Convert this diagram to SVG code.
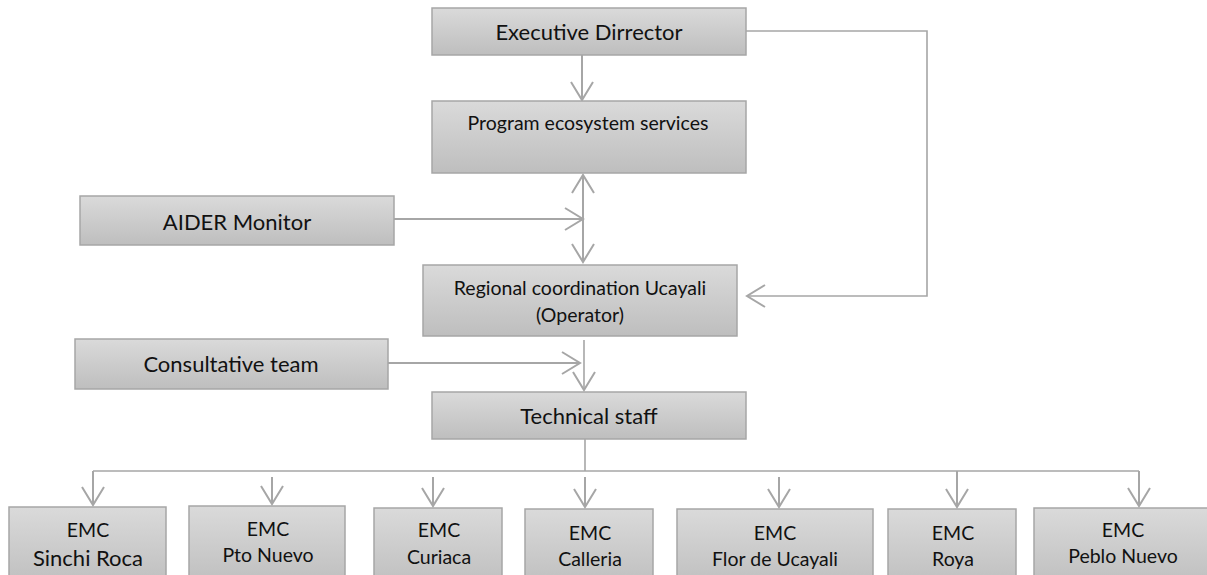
<svg xmlns="http://www.w3.org/2000/svg" width="1207" height="575" viewBox="0 0 1207 575">
<defs>
<linearGradient id="g" x1="0" y1="0" x2="0" y2="1">
<stop offset="0" stop-color="#DADADA"/>
<stop offset="1" stop-color="#BEBEBE"/>
</linearGradient>
<marker id="arr" markerUnits="userSpaceOnUse" markerWidth="26" markerHeight="30" viewBox="0 0 26 30" refX="21" refY="13" orient="auto-start-reverse">
<path d="M3,2 L21,13 L3,24" fill="none" stroke="#A6A6A6" stroke-width="2"/>
</marker>
<style>
.box{fill:url(#g);stroke:#A6A6A6;stroke-width:1.5}
.t{font-family:Lato,"Liberation Sans",sans-serif;fill:#111;text-anchor:middle}
.l{font-size:22px}
.m{font-size:19.5px}
.c{fill:none;stroke:#A6A6A6;stroke-width:2}
.thin{fill:none;stroke:#A6A6A6;stroke-width:1.6}
</style>
</defs>
<g id="connectors">
<line class="c" x1="582" y1="55" x2="582" y2="100" marker-end="url(#arr)"/>
<line class="c" x1="583" y1="175" x2="583" y2="262" marker-start="url(#arr)" marker-end="url(#arr)"/>
<line class="c" x1="394" y1="219" x2="583" y2="219" marker-end="url(#arr)"/>
<polyline class="thin" points="746,31 927,31 927,296 747,296" marker-end="url(#arr)"/>
<line class="c" x1="388" y1="363" x2="580" y2="363" marker-end="url(#arr)"/>
<line class="thin" x1="584" y1="340" x2="584" y2="390" marker-end="url(#arr)"/>
<line class="thin" x1="585" y1="439" x2="585" y2="471"/>
<line class="thin" x1="93" y1="471" x2="1139" y2="471"/>
<line class="c" x1="93" y1="471" x2="93" y2="505" marker-end="url(#arr)"/>
<line class="c" x1="272" y1="477" x2="272" y2="504" marker-end="url(#arr)"/>
<line class="c" x1="433" y1="477" x2="433" y2="506" marker-end="url(#arr)"/>
<line class="c" x1="585" y1="477" x2="585" y2="507" marker-end="url(#arr)"/>
<line class="c" x1="779" y1="477" x2="779" y2="507" marker-end="url(#arr)"/>
<line class="c" x1="957" y1="471" x2="957" y2="507" marker-end="url(#arr)"/>
<line class="c" x1="1139" y1="471" x2="1139" y2="506" marker-end="url(#arr)"/>
</g>
<g id="executive-director">
<rect class="box" x="432" y="8" width="314" height="47"/>
<text class="t l" x="589" y="40">Executive Dirrector</text>
</g>
<g id="program-ecosystem-services">
<rect class="box" x="432" y="101" width="314" height="72"/>
<text class="t m" x="588" y="130">Program ecosystem services</text>
</g>
<g id="aider-monitor">
<rect class="box" x="80" y="196" width="314" height="49"/>
<text class="t l" x="237" y="230">AIDER Monitor</text>
</g>
<g id="regional-coordination">
<rect class="box" x="423" y="265" width="314" height="71"/>
<text class="t m" x="580" y="295">Regional coordination Ucayali</text>
<text class="t m" x="580" y="322">(Operator)</text>
</g>
<g id="consultative-team">
<rect class="box" x="75" y="339" width="313" height="50"/>
<text class="t l" x="231" y="372">Consultative team</text>
</g>
<g id="technical-staff">
<rect class="box" x="432" y="392" width="314" height="47"/>
<text class="t l" x="589" y="424">Technical staff</text>
</g>
<g id="emc-sinchi-roca">
<rect class="box" x="9" y="507" width="157" height="80"/>
<text class="t m" x="88" y="537">EMC</text>
<text class="t l" x="88" y="566">Sinchi Roca</text>
</g>
<g id="emc-pto-nuevo">
<rect class="box" x="189" y="506" width="156" height="80"/>
<text class="t m" x="268" y="536">EMC</text>
<text class="t m" x="268" y="562">Pto Nuevo</text>
</g>
<g id="emc-curiaca">
<rect class="box" x="374" y="508" width="128" height="80"/>
<text class="t m" x="439" y="537">EMC</text>
<text class="t m" x="439" y="564">Curiaca</text>
</g>
<g id="emc-calleria">
<rect class="box" x="525" y="509" width="128" height="80"/>
<text class="t m" x="590" y="540">EMC</text>
<text class="t m" x="590" y="566">Calleria</text>
</g>
<g id="emc-flor-de-ucayali">
<rect class="box" x="677" y="509" width="196" height="80"/>
<text class="t m" x="775" y="540">EMC</text>
<text class="t m" x="775" y="566">Flor de Ucayali</text>
</g>
<g id="emc-roya">
<rect class="box" x="888" y="509" width="128" height="80"/>
<text class="t m" x="953" y="540">EMC</text>
<text class="t m" x="953" y="566">Roya</text>
</g>
<g id="emc-peblo-nuevo">
<rect class="box" x="1034" y="508" width="180" height="80"/>
<text class="t m" x="1123" y="537">EMC</text>
<text class="t m" x="1123" y="563">Peblo Nuevo</text>
</g>
</svg>
